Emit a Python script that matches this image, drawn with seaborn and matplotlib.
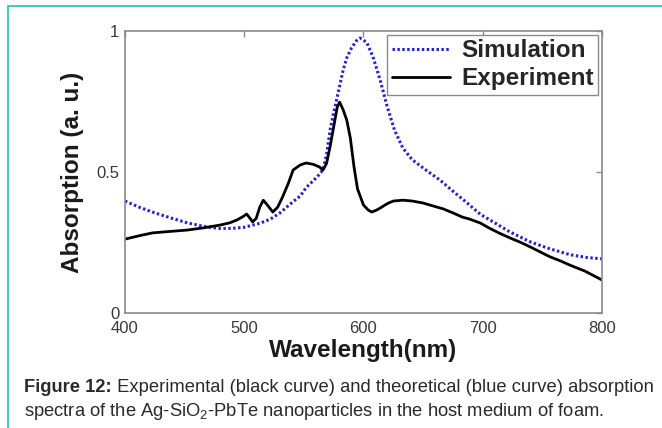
import numpy as np
import pandas as pd
import matplotlib
matplotlib.use("Agg")
import matplotlib.pyplot as plt
import seaborn as sns
from matplotlib.lines import Line2D

# ---- data ----
sim_wavelength = [400, 412, 425, 440, 452, 465, 478, 490, 500, 513, 522, 530, 541, 547, 552,
                  561, 566, 569, 572, 575, 578, 583, 586, 590, 594, 597, 600, 603, 608, 614,
                  620, 626, 633, 641, 653, 664, 675, 687, 698, 706, 723, 740, 756, 773, 787, 800]
sim_absorption = [0.397, 0.375, 0.355, 0.335, 0.320, 0.308, 0.300, 0.300, 0.304, 0.318, 0.333,
                  0.355, 0.395, 0.415, 0.445, 0.482, 0.507, 0.560, 0.649, 0.710, 0.766, 0.862,
                  0.905, 0.940, 0.965, 0.975, 0.968, 0.957, 0.908, 0.826, 0.730, 0.649, 0.585,
                  0.543, 0.505, 0.472, 0.432, 0.390, 0.350, 0.330, 0.287, 0.252, 0.228, 0.207,
                  0.197, 0.192]

exp_wavelength = [400, 412, 423, 437, 452, 466, 480, 488, 494, 499, 502, 505, 507, 510, 513,
                  516, 519, 524, 528, 532, 537, 541, 547, 552, 558, 563, 566, 569, 572, 575,
                  578, 580, 583, 586, 589, 592, 595, 600, 604, 607, 611, 614, 620, 625, 633,
                  641, 650, 658, 667, 675, 683, 689, 698, 706, 714, 723, 732, 740, 748, 756,
                  765, 773, 786, 800]
exp_absorption = [0.262, 0.274, 0.284, 0.289, 0.294, 0.302, 0.312, 0.320, 0.330, 0.342, 0.351,
                  0.335, 0.323, 0.335, 0.375, 0.400, 0.385, 0.358, 0.375, 0.410, 0.460, 0.507,
                  0.525, 0.532, 0.527, 0.518, 0.507, 0.530, 0.590, 0.660, 0.730, 0.748, 0.720,
                  0.684, 0.620, 0.520, 0.440, 0.383, 0.365, 0.358, 0.365, 0.372, 0.388, 0.397,
                  0.400, 0.397, 0.390, 0.380, 0.369, 0.355, 0.340, 0.333, 0.319, 0.300, 0.283,
                  0.266, 0.250, 0.234, 0.217, 0.200, 0.185, 0.170, 0.148, 0.117]

series_names = ["Simulation", "Experiment"]
x_ticks = [400, 500, 600, 700, 800]
y_ticks = [0, 0.5, 1]
y_tick_labels = ["0", "0.5", "1"]
x_label = "Wavelength(nm)"
y_label = "Absorption (a. u.)"
caption_bold = "Figure 12:"
caption_rest = " Experimental (black curve) and theoretical (blue curve) absorption"
caption_line2 = r"spectra of the Ag-SiO$_\mathregular{2}$-PbTe nanoparticles in the host medium of foam."

sim_df = pd.DataFrame({"wavelength": sim_wavelength, "absorption": sim_absorption})
exp_df = pd.DataFrame({"wavelength": exp_wavelength, "absorption": exp_absorption})

# ---- style ----
sns.set_theme(style="white")
plt.rcParams["font.family"] = ["Liberation Sans", "DejaVu Sans"]
plt.rcParams["mathtext.fontset"] = "custom"
plt.rcParams["mathtext.rm"] = "Liberation Sans"

fig = plt.figure(figsize=(6.62, 4.28), dpi=100)
ax = fig.add_axes([0.1888, 0.2687, 0.7205, 0.6589])

blue = "#2222dc"
sim_style = (0, (0.8, 0.8))
sns.lineplot(data=sim_df, x="wavelength", y="absorption", ax=ax, color=blue,
             linestyle=sim_style, linewidth=2.2, label=series_names[0])
sns.lineplot(data=exp_df, x="wavelength", y="absorption", ax=ax, color="black",
             linewidth=2.0, label=series_names[1])

ax.set_xlim(400, 800)
ax.set_ylim(0, 1)
ax.set_xticks(x_ticks)
ax.set_xticklabels([str(v) for v in x_ticks])
ax.set_yticks(y_ticks)
ax.set_yticklabels(y_tick_labels)

for s in ax.spines.values():
    s.set_color("#8a8a8a")
    s.set_linewidth(1.2)
    s.set_visible(True)

ax.tick_params(direction="in", length=4, width=1, color="#8a8a8a",
               top=True, right=True, labelsize=12, labelcolor="#3a3a3a")
ax.tick_params(axis="x", pad=6)
ax.tick_params(axis="y", pad=4)

ax.set_xlabel(x_label, fontsize=17.5, fontweight="bold", color="#1a1a1a", labelpad=2)
ax.set_ylabel(y_label, fontsize=17.5, fontweight="bold", color="#1a1a1a", labelpad=9)

handles = [Line2D([], [], color=blue, linestyle=sim_style, linewidth=2.2),
           Line2D([], [], color="black", linewidth=2.0)]
leg = ax.legend(handles, series_names, loc="upper right",
                prop={"weight": "bold", "size": 17.5}, frameon=True, fancybox=False,
                edgecolor="#8a8a8a", framealpha=1, borderaxespad=0.15,
                handlelength=2.4, handletextpad=0.45, borderpad=0.2, labelspacing=0.2)
leg.get_frame().set_linewidth(1.0)

# ---- frame lines ----
teal = "#35c8ae"
fig.add_artist(Line2D([8 / 662, 8 / 662], [0, 1 - 6 / 428], color=teal, linewidth=1.3,
                      transform=fig.transFigure))
fig.add_artist(Line2D([8 / 662, 1], [1 - 6 / 428, 1 - 6 / 428], color=teal, linewidth=1.3,
                      transform=fig.transFigure))

# ---- caption ----
cap_color = "#2a2a2a"
cap_size = 13.2
t1 = fig.text(24 / 662, 1 - 387 / 428, caption_bold, fontsize=cap_size, fontweight="bold",
              color=cap_color, va="center", ha="left")
ax.annotate(caption_rest, xy=(1, 0), xycoords=t1, va="bottom", ha="left",
            fontsize=cap_size, color=cap_color, annotation_clip=False)
fig.text(24 / 662, 1 - 412 / 428, caption_line2, fontsize=cap_size, color=cap_color,
         va="center", ha="left")

fig.savefig("out.png", dpi=100)
